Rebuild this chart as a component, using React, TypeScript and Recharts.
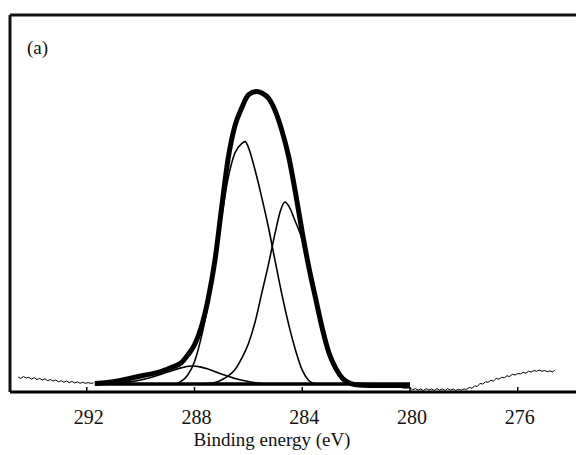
import React from 'react';
import { LineChart, Line, XAxis, YAxis } from 'recharts';

// Binding energy ticks (eV)
const tickValues = [292, 288, 284, 280, 276];

// Envelope (sum of fitted peaks)
const envE = [291.7, 291.25, 290.75, 290.25, 289.75, 289.25, 289, 288.75, 288.5, 288.25, 288, 287.75, 287.5, 287.25, 287, 286.75, 286.5, 286.25, 286, 285.7, 285.5, 285.25, 285, 284.75, 284.5, 284.25, 284, 283.75, 283.5, 283.25, 283, 282.75, 282.5, 282.25, 282, 281.5, 281, 280.5, 280];
const envV = [2.25, 2.5, 3.05, 3.85, 4.6, 5.4, 6.1, 6.8, 7.7, 9.8, 12.5, 17.2, 24.5, 34.5, 48.5, 62.0, 70.6, 75.3, 78.8, 79.7, 79.3, 77.9, 74.5, 69.2, 62.3, 52.8, 42.3, 32.9, 24.7, 16.7, 10.2, 6.2, 3.6, 2.4, 1.9, 1.7, 1.7, 1.7, 1.7];

// Component 1 (~286.1 eV)
const c1E = [289, 288.75, 288.5, 288.25, 288, 287.75, 287.5, 287.25, 287, 286.75, 286.5, 286.25, 286.12, 286, 285.75, 285.5, 285.25, 285, 284.75, 284.5, 284.25, 284, 283.75, 283.5];
const c1V = [2.1, 2.1, 2.8, 4.5, 8.0, 14.5, 23, 33, 46, 56.8, 63.4, 65.9, 66.4, 64.9, 58.8, 51.5, 43.5, 34.5, 25.7, 17.8, 11.1, 5.8, 3.0, 2.1];

// Component 2 (~284.6 eV)
const c2E = [287.75, 287.25, 287, 286.75, 286.5, 286.25, 286, 285.75, 285.5, 285.25, 285, 284.8, 284.64, 284.5, 284.25, 284, 283.75, 283.5, 283.25, 283, 282.75, 282.5, 282.25, 282];
const c2V = [2.1, 2.5, 3.2, 4.3, 5.9, 8.9, 12.8, 18.6, 26.3, 34, 42.4, 48.3, 50.4, 49.3, 45.1, 40.3, 31.8, 23.6, 15.7, 9.3, 5.6, 3.2, 2.4, 2.1];

// Component 3 (~288.1 eV)
const c3E = [291.5, 291, 290.5, 290, 289.5, 289, 288.5, 288.1, 287.75, 287.5, 287, 286.5, 286, 285.5, 285];
const c3V = [2.1, 2.25, 2.65, 3.2, 4.1, 5.3, 6.4, 6.9, 6.6, 6.1, 4.8, 3.6, 2.8, 2.25, 2.1];

// Fit background
const baseE = [291.7, 280];
const baseV = [2.1, 2.1];

// Raw spectrum, high binding energy side
const rawLeftE = [294.55, 294.45, 294.35, 294.25, 294.15, 294.05, 293.95, 293.85, 293.75, 293.65, 293.55, 293.45, 293.35, 293.25, 293.15, 293.05, 292.95, 292.85, 292.75, 292.65, 292.55, 292.45, 292.35, 292.25, 292.15, 292.05, 291.95, 291.85, 291.75];
const rawLeftV = [4.0, 3.6, 4.1, 3.7, 3.9, 3.4, 3.8, 3.3, 3.6, 3.2, 3.5, 3.0, 3.3, 2.9, 3.2, 2.7, 3.0, 2.6, 2.9, 2.5, 2.8, 2.4, 2.7, 2.3, 2.6, 2.3, 2.5, 2.3, 2.4];

// Raw spectrum, low binding energy side
const rawRightE = [282.0, 281.8, 281.6, 281.4, 281.2, 281.0, 280.8, 280.6, 280.4, 280.2, 280.0, 279.9, 279.8, 279.7, 279.6, 279.5, 279.4, 279.3, 279.2, 279.1, 279.0, 278.9, 278.8, 278.7, 278.6, 278.5, 278.4, 278.3, 278.2, 278.1, 278.0, 277.9, 277.8, 277.7, 277.6, 277.5, 277.4, 277.3, 277.2, 277.1, 277.0, 276.9, 276.8, 276.7, 276.6, 276.5, 276.4, 276.3, 276.2, 276.1, 276.0, 275.9, 275.8, 275.7, 275.6, 275.5, 275.4, 275.3, 275.2, 275.1, 275.0, 274.9, 274.8, 274.7, 274.62];
const rawRightV = [1.9, 1.6, 1.8, 1.5, 1.6, 1.3, 1.5, 1.2, 1.3, 1.0, 1.1, 0.6, 0.9, 0.5, 0.8, 0.4, 0.9, 0.5, 0.8, 0.4, 0.9, 0.5, 0.8, 0.4, 0.9, 0.5, 0.8, 0.4, 0.7, 0.5, 0.8, 0.7, 1.2, 1.0, 1.6, 1.5, 2.3, 2.1, 2.7, 2.6, 3.1, 2.9, 3.6, 3.4, 3.9, 3.8, 4.3, 4.1, 4.7, 4.5, 4.9, 4.8, 5.2, 5.0, 5.5, 5.3, 5.7, 5.5, 5.8, 5.5, 5.7, 5.4, 5.6, 5.3, 5.9];

const zip = (es: number[], vs: number[]) => es.map((e, i) => ({ e, v: vs[i] }));

const FONT = '"Liberation Serif", "Times New Roman", serif';
const X_DOMAIN: [number, number] = [273.54, 294.85];

const Tick = (props: any) => {
  const { x, y, payload } = props;
  return (
    <g>
      <line x1={x} x2={x} y1={y} y2={y - 5} stroke="#000" strokeWidth={1.5} />
      <text x={x + 2} y={y + 32} textAnchor="middle" fontFamily={FONT} fontSize={20} fill="#111">
        {payload.value}
      </text>
    </g>
  );
};

export default function App() {
  const common = {
    xAxisId: 'b',
    yAxisId: 'l',
    dataKey: 'v',
    dot: false,
    activeDot: false,
    isAnimationActive: false,
    stroke: '#000',
  } as any;
  return (
    <div style={{ position: 'relative', width: 576, height: 447 }}>
      <LineChart width={576} height={447} margin={{ top: 6, right: 0, bottom: 0, left: 0 }}>
        <XAxis
          xAxisId="b"
          dataKey="e"
          type="number"
          domain={X_DOMAIN}
          reversed
          allowDataOverflow
          ticks={tickValues}
          interval={0}
          tickSize={0}
          tickMargin={0}
          tickLine={false}
          tick={<Tick />}
          axisLine={{ stroke: '#000', strokeWidth: 3 }}
          height={63}
        />
        <XAxis
          xAxisId="t"
          orientation="top"
          dataKey="e"
          type="number"
          domain={X_DOMAIN}
          reversed
          allowDataOverflow
          tick={false}
          tickLine={false}
          axisLine={{ stroke: '#111', strokeWidth: 3 }}
          height={1}
        />
        <YAxis
          yAxisId="l"
          type="number"
          domain={[0, 100]}
          allowDataOverflow
          tick={false}
          tickLine={false}
          axisLine={{ stroke: '#111', strokeWidth: 3 }}
          width={2}
        />
        <Line {...common} data={zip(rawLeftE, rawLeftV)} type="linear" strokeWidth={1} />
        <Line {...common} data={zip(rawRightE, rawRightV)} type="linear" strokeWidth={1} />
        <Line {...common} data={zip(baseE, baseV)} type="linear" strokeWidth={3.5} />
        <Line {...common} data={zip(c3E, c3V)} type="monotone" strokeWidth={1.6} />
        <Line {...common} data={zip(c1E, c1V)} type="monotone" strokeWidth={1.6} />
        <Line {...common} data={zip(c2E, c2V)} type="monotone" strokeWidth={1.6} />
        <Line {...common} data={zip(envE, envV)} type="monotone" strokeWidth={5} strokeLinejoin="round" />
      </LineChart>
      <div
        style={{
          position: 'absolute',
          left: 19,
          top: 30,
          fontFamily: FONT,
          fontSize: 19,
          lineHeight: '19px',
          color: '#111',
        }}
      >
        (a)
      </div>
      <div
        style={{
          position: 'absolute',
          left: 114,
          top: 422,
          width: 300,
          textAlign: 'center',
          fontFamily: FONT,
          fontSize: 19,
          lineHeight: '19px',
          color: '#111',
          whiteSpace: 'nowrap',
        }}
      >
        Binding energy (eV)
      </div>
    </div>
  );
}
